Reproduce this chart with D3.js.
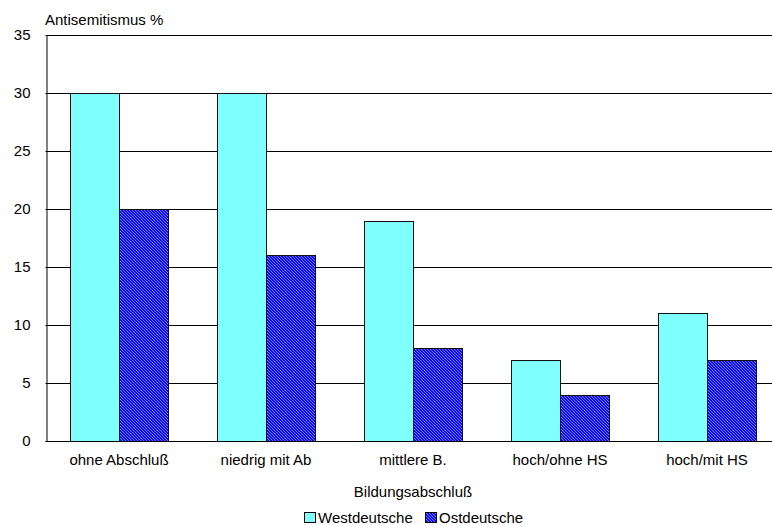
<!DOCTYPE html>
<html>
<head>
<meta charset="utf-8">
<script src="https://cdn.jsdelivr.net/npm/d3@7"></script>
<style>
  html, body { margin: 0; padding: 0; background: #fff; }
  svg { display: block; font-family: Arial, "Liberation Sans", sans-serif; }
</style>
</head>
<body>
<svg id="chart" width="772" height="525"></svg>
<script>
// Education level categories
const categories = ["ohne Abschluß", "niedrig mit Ab", "mittlere B.", "hoch/ohne HS", "hoch/mit HS"];
// Share with antisemitic attitudes, percent
const westValues = [30, 30, 19, 7, 11];
const ostValues = [20, 16, 8, 4, 7];
const seriesNames = ["Westdeutsche", "Ostdeutsche"];
const yTicks = [0, 5, 10, 15, 20, 25, 30, 35];

const svg = d3.select("#chart");
const defs = svg.append("defs");

// Fine diagonal hatch for the second series
const pat = defs.append("pattern")
  .attr("id", "hatch")
  .attr("patternUnits", "userSpaceOnUse")
  .attr("width", 3).attr("height", 3);
pat.append("rect").attr("width", 3).attr("height", 3).attr("fill", "#0a0aff");
pat.append("path")
  .attr("d", "M-1,-1 L4,4 M-1,2 L1,4 M2,-1 L4,1")
  .attr("stroke", "#9a9aff").attr("stroke-width", 0.8);

const plotLeft = 45.5, plotRight = 780.5, plotTop = 35, plotBottom = 441;

const x = d3.scaleBand().domain(categories).range([plotLeft, plotRight])
  .paddingInner(1 / 3).paddingOuter(1 / 6);
const xs = d3.scaleBand().domain(seriesNames).range([0, x.bandwidth()]);
const y = d3.scaleLinear().domain([0, 35]).range([plotBottom, plotTop]);

// Horizontal grid lines
svg.append("g").selectAll("line").data(yTicks).join("line")
  .attr("x1", plotLeft).attr("x2", 772)
  .attr("y1", d => Math.round(y(d)) + 0.5).attr("y2", d => Math.round(y(d)) + 0.5)
  .attr("stroke", "#000").attr("stroke-width", 1);

// Y axis
const yAxis = svg.append("g")
  .attr("transform", `translate(${Math.round(plotLeft) + 0.5},0)`)
  .call(d3.axisLeft(y).tickValues(yTicks).tickSize(0).tickPadding(16));
yAxis.select(".domain").attr("stroke", "#000");
yAxis.selectAll("text").attr("font-size", 15).attr("fill", "#000")
  .attr("font-family", "Arial, 'Liberation Sans', sans-serif");

// Bars
const series = [
  { name: seriesNames[0], values: westValues, fill: "#80ffff" },
  { name: seriesNames[1], values: ostValues, fill: "url(#hatch)" }
];
series.forEach(s => {
  svg.append("g").selectAll("rect").data(categories).join("rect")
    .attr("x", (c) => Math.round(x(c) + xs(s.name)) + 0.5)
    .attr("y", (c, i) => Math.round(y(s.values[i])) + 0.5)
    .attr("width", Math.round(xs.bandwidth()))
    .attr("height", (c, i) => Math.round(y(0)) - Math.round(y(s.values[i])))
    .attr("fill", s.fill)
    .attr("stroke", "#111").attr("stroke-width", 1);
});

// X axis
const xAxis = svg.append("g")
  .attr("transform", `translate(0,${Math.round(plotBottom) + 0.5})`)
  .call(d3.axisBottom(x).tickSize(0).tickPadding(13));
xAxis.select(".domain").attr("d", `M${plotLeft},0H772`).attr("stroke", "#000");
xAxis.selectAll("text").attr("font-size", 15).attr("fill", "#000")
  .attr("font-family", "Arial, 'Liberation Sans', sans-serif");

// Axis titles
svg.append("text").attr("x", 45).attr("y", 25)
  .attr("font-size", 15).text("Antisemitismus %");
svg.append("text").attr("x", 413).attr("y", 497).attr("text-anchor", "middle")
  .attr("font-size", 15).text("Bildungsabschluß");

// Legend
const legend = svg.append("g").attr("transform", "translate(304,512)");
const legendX = [0, 121];
series.forEach((s, i) => {
  const g = legend.append("g").attr("transform", `translate(${legendX[i]},0)`);
  g.append("rect").attr("x", 0.5).attr("y", 0.5).attr("width", 11).attr("height", 10)
    .attr("fill", s.fill).attr("stroke", "#000");
  g.append("text").attr("x", 14).attr("y", 11).attr("font-size", 15).text(s.name);
});
</script>
</body>
</html>
